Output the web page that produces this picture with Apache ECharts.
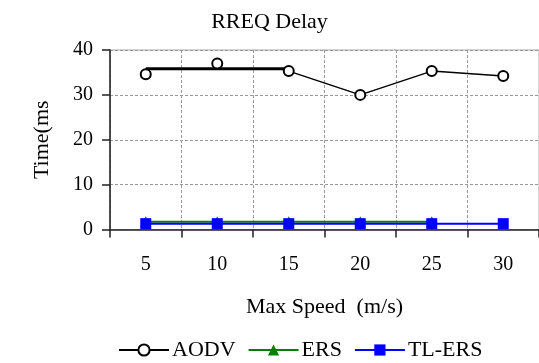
<!DOCTYPE html>
<html>
<head>
<meta charset="utf-8">
<script src="https://cdn.jsdelivr.net/npm/echarts@6/dist/echarts.min.js"></script>
<style>html,body{margin:0;padding:0;background:#fff;}#c{width:539px;height:363px;}</style>
</head>
<body>
<div id="c"></div>
<script>
var categories = ['5', '10', '15', '20', '25', '30'];
var aodvPoints = [34.6, 37.0, 35.3, 30.0, 35.3, 34.2];
var aodvLine = ['-', '-', 35.3, 30.0, 35.3, 34.2];
var aodvThick = [35.8, 35.8, 35.8, '-', '-', '-'];
var ersValues = [1.7, 1.7, 1.7, 1.7, 1.7, '-'];
var tlersValues = [1.3, 1.3, 1.3, 1.3, 1.3, 1.3];
var yTicks = [0, 10, 20, 30, 40];

var serif = '"Liberation Serif", "Times New Roman", serif';
var chart = echarts.init(document.getElementById('c'), null, {renderer: 'canvas'});
chart.setOption({
  animation: false,
  backgroundColor: '#fff',
  title: {
    text: 'RREQ Delay', left: 'center', top: 6,
    textStyle: {fontFamily: serif, fontSize: 22, fontWeight: 'normal', color: '#000'}
  },
  legend: {
    left: 113, top: 334, itemWidth: 50, itemHeight: 14, itemGap: 12,
    textStyle: {fontFamily: serif, fontSize: 22, color: '#000', padding: [0, 0, 0, -2]},
    data: ['AODV', 'ERS', 'TL-ERS']
  },
  grid: {
    left: 110, top: 50, right: -1, bottom: 133.5,
    show: true, borderColor: '#aaa', borderWidth: 1, backgroundColor: 'transparent'
  },
  xAxis: {
    type: 'category', data: categories, boundaryGap: true,
    name: 'Max Speed  (m/s)', nameLocation: 'middle', nameGap: 67,
    nameTextStyle: {fontFamily: serif, fontSize: 22, color: '#000'},
    axisLine: {lineStyle: {color: '#222', width: 1.5}},
    axisTick: {show: true, length: 8, lineStyle: {color: '#222', width: 1.5}},
    axisLabel: {margin: 25, fontFamily: serif, fontSize: 20, color: '#000'},
    splitLine: {show: true, lineStyle: {color: '#999', type: [3, 2], width: 1}}
  },
  yAxis: {
    type: 'value', min: yTicks[0], max: yTicks[yTicks.length - 1], interval: 10,
    name: 'Time(ms', nameLocation: 'middle', nameGap: 57, nameRotate: 90,
    nameTextStyle: {fontFamily: serif, fontSize: 22, color: '#000'},
    axisLine: {show: true, lineStyle: {color: '#222', width: 1.5}},
    axisTick: {show: true, length: 8, lineStyle: {color: '#222', width: 1.5}},
    axisLabel: {margin: 17, fontFamily: serif, fontSize: 20, color: '#000'},
    splitLine: {show: true, lineStyle: {color: '#999', type: [3, 2], width: 1}}
  },
  series: [
    {
      name: 'AODV', type: 'line', data: aodvLine, z: 3,
      symbol: 'circle', symbolSize: 10, showSymbol: false,
      itemStyle: {color: '#fff', borderColor: '#000', borderWidth: 1.5},
      lineStyle: {color: '#000', width: 1.5}
    },
    {
      name: 'AODV', type: 'line', data: aodvThick, z: 2,
      symbol: 'none', lineStyle: {color: '#000', width: 3}
    },
    {
      name: 'AODV', type: 'line', data: aodvPoints, z: 4,
      symbol: 'emptyCircle', symbolSize: 10,
      itemStyle: {color: '#000', borderColor: '#000', borderWidth: 1.5},
      lineStyle: {width: 0, opacity: 0}
    },
    {
      name: 'ERS', type: 'line', data: ersValues, z: 3,
      symbol: 'triangle', symbolSize: 11,
      itemStyle: {color: '#008000'},
      lineStyle: {color: '#008000', width: 2}
    },
    {
      name: 'TL-ERS', type: 'line', data: tlersValues, z: 4,
      symbol: 'rect', symbolSize: 11,
      itemStyle: {color: '#0000ff'},
      lineStyle: {color: '#0000ff', width: 2}
    }
  ]
});
</script>
</body>
</html>
